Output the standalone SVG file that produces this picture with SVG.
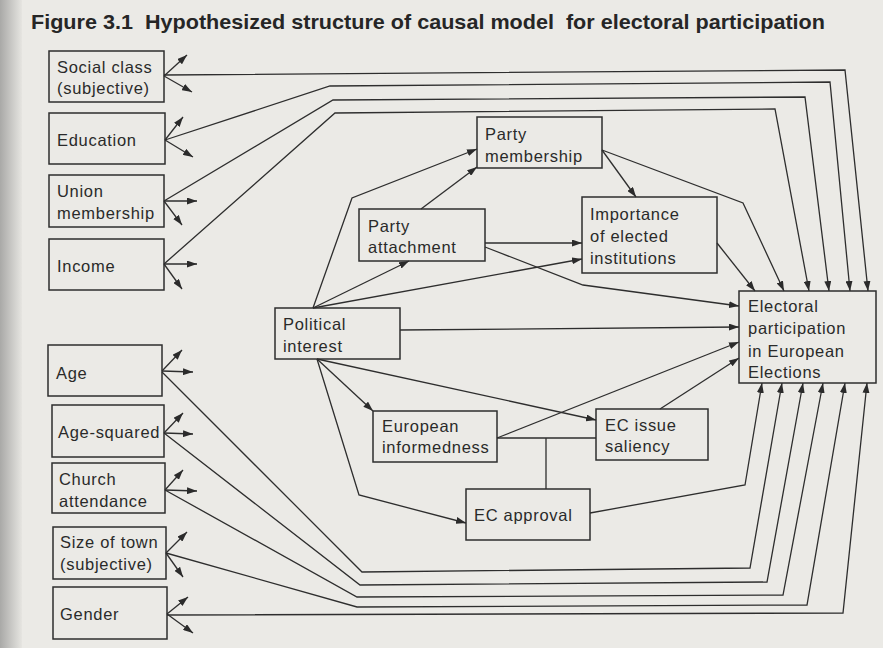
<svg xmlns="http://www.w3.org/2000/svg" width="883" height="648" viewBox="0 0 883 648">
<defs>
<linearGradient id="edge" x1="0" y1="0" x2="1" y2="0">
<stop offset="0" stop-color="#a9a9a7"/>
<stop offset="1" stop-color="#e6e5e1"/>
</linearGradient>
<marker id="ah" markerWidth="10" markerHeight="7" refX="10" refY="3.5" orient="auto" markerUnits="userSpaceOnUse">
<path d="M0,0 L10,3.5 L0,7 z" fill="#2b2b2b"/>
</marker>
<style>
.bx{fill:none;stroke:#2e2e2e;stroke-width:1.5}
.t{font-family:"Liberation Sans",Arial,sans-serif;font-size:16.5px;letter-spacing:0.7px;fill:#2a2a2a}
.c path{fill:none;stroke:#2e2e2e;stroke-width:1.3}
.c .a{marker-end:url(#ah)}
.title{font-family:"Liberation Sans",Arial,sans-serif;font-weight:bold;font-size:20.5px;fill:#262626;white-space:pre}
</style>
</defs>
<rect width="883" height="648" fill="#ebeae6"/>
<rect width="22" height="648" fill="url(#edge)"/>
<text class="title" xml:space="preserve" x="31" y="29" textLength="794" lengthAdjust="spacingAndGlyphs">Figure 3.1  Hypothesized structure of causal model  for electoral participation</text>

<g class="c" id="connectors">
<path class="a" d="M164,76 L187,55"/><path class="a" d="M164,76 L192,92"/>
<path class="a" d="M165,140 L183,117"/><path class="a" d="M165,140 L193,157"/>
<path class="a" d="M164,201 L197,201"/><path class="a" d="M164,201 L182,225"/>
<path class="a" d="M164,264 L197,264"/><path class="a" d="M164,264 L182,289"/>
<path class="a" d="M162,371 L182,350"/><path class="a" d="M162,371 L193,372"/>
<path class="a" d="M164,433 L183,413"/><path class="a" d="M164,433 L193,434"/>
<path class="a" d="M165,490 L183,470"/><path class="a" d="M165,490 L197,491"/>
<path class="a" d="M166,553 L187,532"/><path class="a" d="M166,553 L183,577"/>
<path class="a" d="M167,614 L188,597"/><path class="a" d="M167,614 L193,633"/>
<path class="a" d="M164,75 L845,70 L868,291"/>
<path class="a" d="M165,140 L330,86 L830,82 L850,291"/>
<path class="a" d="M164,201 L333,100 L805,97 L829,291"/>
<path class="a" d="M164,264 L335,113 L775,109 L809,291"/>
<path class="a" d="M162,372 L362,572 L750,568 L782,383"/>
<path class="a" d="M164,433 L360,585 L767,582 L803,383"/>
<path class="a" d="M165,490 L357,597 L783,595 L823,383"/>
<path class="a" d="M166,553 L357,607 L807,605 L845,383"/>
<path class="a" d="M167,615 L843,613 L867,383"/>
<path class="a" d="M313,308 L352,198 L477,149"/>
<path class="a" d="M421,209 L477,167"/>
<path class="a" d="M313,308 L409,261"/>
<path class="a" d="M313,308 L582,259"/>
<path class="a" d="M485,243 L582,243"/>
<path class="a" d="M485,247 L583,285 L739,306"/>
<path class="a" d="M602,150 L636,197"/>
<path class="a" d="M602,150 L743,203 L784,291"/>
<path class="a" d="M717,243 L755,291"/>
<path class="a" d="M400,330 L739,327"/>
<path class="a" d="M497,438 L739,342"/>
<path class="a" d="M660,409 L739,358"/>
<path class="a" d="M317,359 L596,420"/>
<path class="a" d="M317,359 L373,411"/>
<path class="a" d="M317,359 L359,495 L466,523"/>
<path d="M497,438 L596,438 M546,438 L546,489"/>
<path class="a" d="M590,513 L745,485 L762,383"/>
</g>

<g id="social-class"><rect class="bx" x="49" y="51" width="115" height="51"/><text class="t" x="57" y="73">Social class</text><text class="t" x="57" y="94">(subjective)</text></g>
<g id="education"><rect class="bx" x="49" y="113" width="116" height="51"/><text class="t" x="57" y="146">Education</text></g>
<g id="union"><rect class="bx" x="49" y="175" width="115" height="52"/><text class="t" x="57" y="197">Union</text><text class="t" x="57" y="219">membership</text></g>
<g id="income"><rect class="bx" x="49" y="239" width="115" height="51"/><text class="t" x="57" y="272">Income</text></g>
<g id="age"><rect class="bx" x="48" y="345" width="114" height="51"/><text class="t" x="56" y="379">Age</text></g>
<g id="age-squared"><rect class="bx" x="52" y="405" width="112" height="52"/><text class="t" x="58" y="438">Age-squared</text></g>
<g id="church"><rect class="bx" x="52" y="463" width="113" height="50"/><text class="t" x="59" y="485">Church</text><text class="t" x="59" y="507">attendance</text></g>
<g id="size-of-town"><rect class="bx" x="53" y="527" width="113" height="52"/><text class="t" x="60" y="548">Size of town</text><text class="t" x="60" y="570">(subjective)</text></g>
<g id="gender"><rect class="bx" x="53" y="587" width="114" height="52"/><text class="t" x="60" y="620">Gender</text></g>

<g id="party-membership"><rect class="bx" x="477" y="117" width="125" height="51"/><text class="t" x="485" y="140">Party</text><text class="t" x="485" y="162">membership</text></g>
<g id="party-attachment"><rect class="bx" x="359" y="209" width="126" height="52"/><text class="t" x="368" y="232">Party</text><text class="t" x="368" y="253">attachment</text></g>
<g id="importance"><rect class="bx" x="582" y="197" width="135" height="76"/><text class="t" x="590" y="220">Importance</text><text class="t" x="590" y="242">of elected</text><text class="t" x="590" y="264">institutions</text></g>
<g id="political-interest"><rect class="bx" x="275" y="308" width="125" height="51"/><text class="t" x="283" y="330">Political</text><text class="t" x="283" y="352">interest</text></g>
<g id="european-informedness"><rect class="bx" x="373" y="411" width="124" height="51"/><text class="t" x="382" y="432">European</text><text class="t" x="382" y="453">informedness</text></g>
<g id="ec-issue-saliency"><rect class="bx" x="596" y="409" width="112" height="51"/><text class="t" x="605" y="431">EC issue</text><text class="t" x="605" y="452">saliency</text></g>
<g id="ec-approval"><rect class="bx" x="466" y="489" width="124" height="51"/><text class="t" x="474" y="521">EC approval</text></g>
<g id="electoral-participation"><rect class="bx" x="739" y="291" width="137" height="92"/><text class="t" x="748" y="312">Electoral</text><text class="t" x="748" y="334">participation</text><text class="t" x="748" y="357">in European</text><text class="t" x="748" y="378">Elections</text></g>
</svg>
